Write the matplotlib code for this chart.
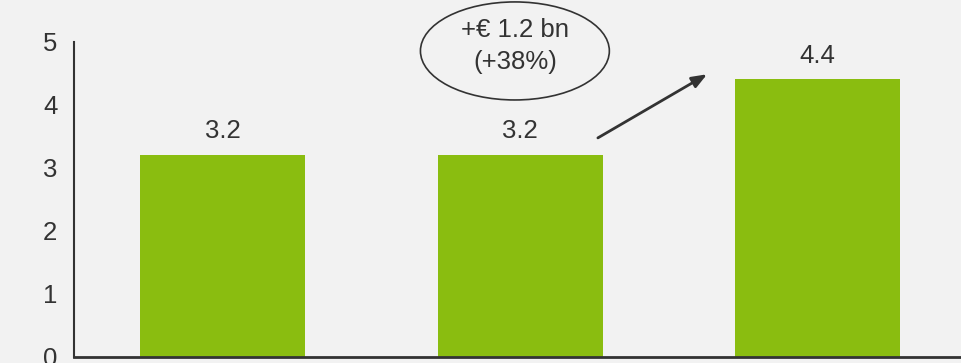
import matplotlib.pyplot as plt
from matplotlib.patches import Ellipse

# bar data
categories = ['A', 'B', 'C']
values = [3.2, 3.2, 4.4]
y_ticks = [0, 1, 2, 3, 4, 5]
bubble_lines = ['+€ 1.2 bn', '(+38%)']

plt.rcParams['font.family'] = ['Liberation Sans', 'DejaVu Sans']

bg = '#f2f2f2'
green = '#8abd10'
dark = '#333333'

fig = plt.figure(figsize=(9.62, 3.63), dpi=100, facecolor=bg)
ax = fig.add_axes([74 / 962, 6.5 / 363, 892.5 / 962, 315 / 363])
ax.set_facecolor(bg)

x = range(len(categories))
ax.bar(x, values, width=0.555, color=green, zorder=2)

for xi, v in zip(x, values):
    ax.annotate(f'{v:.1f}', (xi, v), xytext=(0, 17), textcoords='offset points',
                ha='center', va='center', fontsize=18.5, color=dark)

ax.set_xlim(-0.5, 2.5)
ax.set_ylim(0, 5)
ax.set_yticks(y_ticks)
ax.set_xticks([])
ax.tick_params(axis='y', length=0, pad=12, labelsize=18.5, labelcolor=dark)

for s in ['top', 'right']:
    ax.spines[s].set_visible(False)
ax.spines['left'].set_color(dark)
ax.spines['left'].set_linewidth(1.5)
ax.spines['bottom'].set_color(dark)
ax.spines['bottom'].set_linewidth(2)

# bubble with the change
ax.add_patch(Ellipse((0.982, 4.85), 0.635, 1.556, facecolor='none',
                     edgecolor=dark, linewidth=1.2, clip_on=False, zorder=3))
ax.text(0.982, 5.18, bubble_lines[0], ha='center', va='center', fontsize=18.5,
        color=dark, clip_on=False)
ax.text(0.982, 4.67, bubble_lines[1], ha='center', va='center', fontsize=18.5,
        color=dark, clip_on=False)

# arrow towards the last bar
ax.annotate('', xy=(1.628, 4.48), xytext=(1.261, 3.47),
            arrowprops=dict(arrowstyle='-|>,head_length=0.9,head_width=0.35',
                            color=dark, lw=2, shrinkA=0, shrinkB=0))

fig.savefig('out.png', dpi=100, facecolor=bg)
